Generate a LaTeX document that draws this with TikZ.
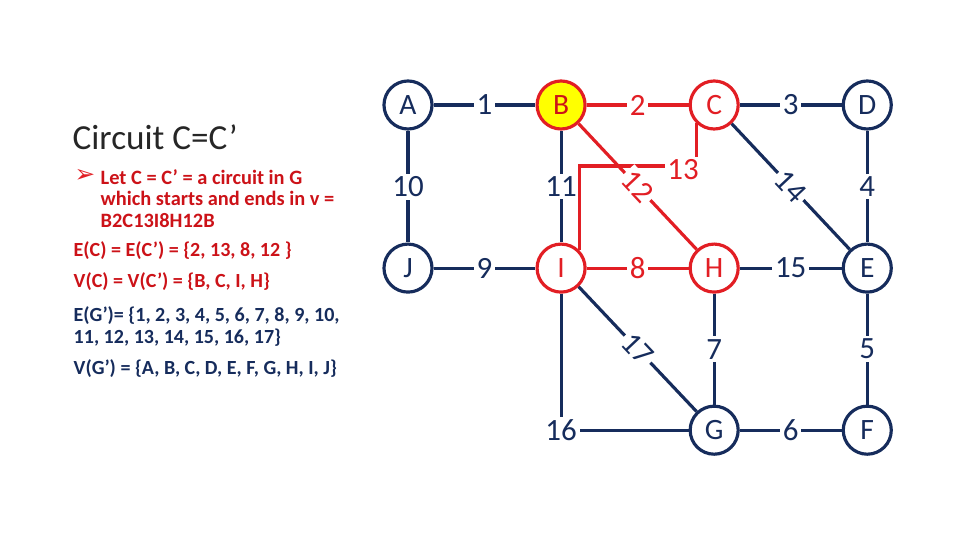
\documentclass[tikz,border=0pt]{standalone}
\usepackage{fontspec}
\setmainfont{Carlito}
\newfontfamily\symfont{DejaVu Sans}
\usetikzlibrary{positioning}
\definecolor{GraphNavy}{RGB}{22,44,92}
\definecolor{CircuitRed}{RGB}{226,30,36}
\definecolor{TextRed}{RGB}{204,18,24}
\definecolor{StartYellow}{RGB}{255,255,0}
\tikzset{
  vtx/.style={circle, draw=#1, fill=white, line width=0.9pt,
              minimum size=0.48cm, inner sep=0pt, text=#1,
              font=\fontsize{8.4}{9}\selectfont},
  lbl/.style={fill=white, inner sep=0.8pt, text=#1,
              font=\fontsize{8.8}{9}\selectfont},
  lnk/.style={line width=0.9pt, draw=#1},
  txt/.style={anchor=west, align=left, inner sep=0pt, text=#1,
              font=\fontsize{5.7}{6.05}\selectfont\bfseries},
}

\begin{document}
\begin{tikzpicture}[x=0.01cm, y=-0.01cm, node distance=1.53cm and 1.53cm, on grid]
  \useasboundingbox (0,0) rectangle (960,540);
  % vertices
  \node[vtx=GraphNavy] (A) at (408,105) {A};
  \node[vtx=CircuitRed, fill=StartYellow, text=TextRed, right=of A] (B) {B};
  \node[vtx=CircuitRed, right=of B] (C) {C};
  \node[vtx=GraphNavy, right=of C] (D) {D};
  \node[vtx=GraphNavy, below=1.63cm of A] (J) {J};
  \node[vtx=CircuitRed, right=of J] (I) {I};
  \node[vtx=CircuitRed, right=of I] (H) {H};
  \node[vtx=GraphNavy, right=of H] (E) {E};
  \node[vtx=GraphNavy, below=1.62cm of H] (G) {G};
  \node[vtx=GraphNavy, right=of G] (F) {F};

  % edges
  \draw[lnk=GraphNavy] (A) -- node[lbl=GraphNavy] {1} (B);
  \draw[lnk=CircuitRed] (B) -- node[lbl=CircuitRed] {2} (C);
  \draw[lnk=GraphNavy] (C) -- node[lbl=GraphNavy] {3} (D);
  \draw[lnk=GraphNavy] (A) -- node[lbl=GraphNavy] {10} (J);
  \draw[lnk=GraphNavy] (B) -- node[lbl=GraphNavy] {11} (I);
  \draw[lnk=GraphNavy] (D) -- node[lbl=GraphNavy] {4} (E);
  \draw[lnk=GraphNavy] (J) -- node[lbl=GraphNavy] {9} (I);
  \draw[lnk=CircuitRed] (I) -- node[lbl=CircuitRed] {8} (H);
  \draw[lnk=GraphNavy] (H) -- node[lbl=GraphNavy] {15} (E);
  \draw[lnk=GraphNavy] (H) -- node[lbl=GraphNavy] {7} (G);
  \draw[lnk=GraphNavy] (E) -- node[lbl=GraphNavy] {5} (F);
  \draw[lnk=GraphNavy] (G) -- node[lbl=GraphNavy] {6} (F);
  \draw[lnk=GraphNavy] (I) |- node[lbl=GraphNavy] {16} (G);
  \draw[lnk=CircuitRed] (C.south west) |- (640,166) -| (I.north east);
  \node[lbl=CircuitRed] (l13) at (683,170) {13};
  \draw[lnk=CircuitRed] (B) -- node[lbl=CircuitRed, sloped] {12} (H);
  \draw[lnk=GraphNavy] (C) -- node[lbl=GraphNavy, sloped] {14} (E);
  \draw[lnk=GraphNavy] (I) -- node[lbl=GraphNavy, sloped] {17} (G);

  % text
  \node[anchor=west, inner sep=0pt, text=black!85,
        font=\fontsize{10}{11}\selectfont] (title) at (72,137) {Circuit C=C’};
  \node[anchor=west, inner sep=0pt, text=CircuitRed,
        font=\symfont\fontsize{7}{7}\selectfont] (blt) at (74,176) {➢};
  \node[txt=TextRed, font=\fontsize{5.8}{6.1}\selectfont\bfseries] (letc) at (100,198.5)
    {Let C = C’ = a circuit in G\\which starts and ends in v =\\B2C13I8H12B};
  \node[txt=TextRed] (ec) at (73,251) {E(C) = E(C’) = \{2, 13, 8, 12 \}};
  \node[txt=TextRed] (vc) at (73,282) {V(C) = V(C’) = \{B, C, I, H\}};
  \node[txt=GraphNavy] (eg) at (73,326.5)
    {E(G’)= \{1, 2, 3, 4, 5, 6, 7, 8, 9, 10,\\11, 12, 13, 14, 15, 16, 17\}};
  \node[txt=GraphNavy] (vg) at (73,369) {V(G’) = \{A, B, C, D, E, F, G, H, I, J\}};
\end{tikzpicture}
\end{document}
